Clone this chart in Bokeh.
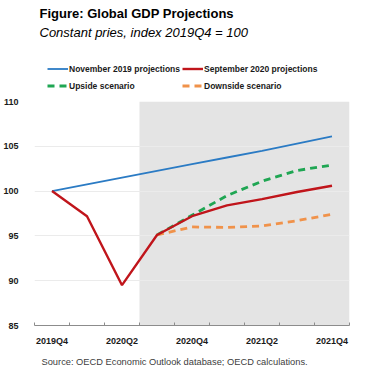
from bokeh.plotting import figure
from bokeh.layouts import column
from bokeh.models import (FixedTicker, Range1d, Legend, LegendItem, Label, BoxAnnotation)
from bokeh.embed import file_html
from bokeh.resources import INLINE

# ---- data ----
quarters = ["2019Q4", "2020Q1", "2020Q2", "2020Q3", "2020Q4",
            "2021Q1", "2021Q2", "2021Q3", "2021Q4"]
nov2019 = [100.0, 100.75, 101.5, 102.25, 103.0, 103.75, 104.5, 105.3, 106.1]
sep2020 = [100.0, 97.2, 89.5, 95.1, 97.2, 98.4, 99.1, 99.9, 100.6]
scenario_quarters = ["2020Q3", "2020Q4", "2021Q1", "2021Q2", "2021Q3", "2021Q4"]
upside = [95.1, 97.3, 99.5, 101.1, 102.3, 102.9]
downside = [95.1, 96.0, 95.95, 96.1, 96.7, 97.4]
y_ticks = [85, 90, 95, 100, 105, 110]
label_quarters = ["2019Q4", "2020Q2", "2020Q4", "2021Q2", "2021Q4"]
projection_start = "2020Q3"

title_text = "Figure: Global GDP Projections"
subtitle_text = "Constant pries, index 2019Q4 = 100"
source_text = "Source: OECD Economic Outlook database; OECD calculations."
series_names = ["November 2019 projections", "September 2020 projections",
                "Upside scenario", "Downside scenario"]

# ---- styles ----
BLUE = "#2b7bc4"
RED = "#c0151b"
GREEN = "#1fa653"
ORANGE = "#f0924a"
SANS = "'Liberation Sans', Arial, sans-serif"
W = 357
styles = [dict(line_color=BLUE, line_width=1.8),
          dict(line_color=RED, line_width=2.4),
          dict(line_color=GREEN, line_width=2.8, line_dash="7 5"),
          dict(line_color=ORANGE, line_width=2.8, line_dash="7 5")]


def bare(height):
    f = figure(width=W, height=height, output_backend="svg", toolbar_location=None,
               x_axis_type=None, y_axis_type=None,
               x_range=Range1d(0, W), y_range=Range1d(0, height),
               min_border=0, min_border_left=0, min_border_right=0,
               min_border_top=0, min_border_bottom=0)
    f.outline_line_color = None
    f.grid.visible = False
    return f


# ---- header: title, subtitle, legend ----
HEAD_H = 93
head = bare(HEAD_H)
head.add_layout(Label(x=5, y=HEAD_H - 12.5, x_units="screen", y_units="screen",
                      text=title_text, text_font=SANS, text_font_style="bold",
                      text_font_size="13px", text_color="black",
                      text_baseline="alphabetic"))
head.add_layout(Label(x=5, y=HEAD_H - 32, x_units="screen", y_units="screen",
                      text=subtitle_text, text_font=SANS, text_font_style="italic",
                      text_font_size="13px", text_color="black",
                      text_baseline="alphabetic"))
nan = float("nan")
dummy = [head.line([nan], [nan], **st) for st in styles]
legend = Legend(items=[LegendItem(label=n, renderers=[r]) for n, r in zip(series_names, dummy)],
                orientation="horizontal", ncols=2, location=(13, 0),
                padding=0, margin=0, spacing=2, label_standoff=1,
                glyph_width=21, glyph_height=15, label_height=15,
                border_line_color=None, background_fill_alpha=0,
                label_text_font=SANS, label_text_font_style="bold",
                label_text_font_size="8.5px", label_text_color="#1a1a1a")
head.add_layout(legend)

# ---- main chart ----
xi = list(range(len(quarters)))
sx = [quarters.index(q) for q in scenario_quarters]

p = figure(width=W, height=255, output_backend="svg", toolbar_location=None,
           x_range=Range1d(-0.5, len(quarters) - 0.5),
           y_range=Range1d(min(y_ticks), max(y_ticks)),
           min_border_left=26, min_border_right=8, min_border_top=8,
           min_border_bottom=22)
p.outline_line_color = None

band = BoxAnnotation(left=quarters.index(projection_start) - 0.5,
                     right=len(quarters) - 0.5,
                     fill_color="#e4e4e4", fill_alpha=1.0, line_color=None,
                     level="image")
p.add_layout(band)

p.xgrid.visible = False
p.ygrid.ticker = FixedTicker(ticks=y_ticks[1:])
p.ygrid.grid_line_color = "#ebebeb"
p.ygrid.grid_line_width = 1

p.yaxis.ticker = FixedTicker(ticks=y_ticks)
p.yaxis.axis_line_color = None
p.yaxis.major_tick_line_color = None
p.yaxis.minor_tick_line_color = None
p.yaxis.major_label_standoff = 10
p.yaxis.major_label_text_font = SANS
p.yaxis.major_label_text_font_style = "bold"
p.yaxis.major_label_text_font_size = "9px"
p.yaxis.major_label_text_color = "#1a1a1a"

label_idx = [quarters.index(q) for q in label_quarters]
p.xaxis.ticker = FixedTicker(ticks=label_idx,
                             minor_ticks=[i - 0.5 for i in range(len(quarters) + 1)])
p.xaxis.major_label_overrides = {i: quarters[i] for i in label_idx}
p.xaxis.axis_line_color = "#8c8c8c"
p.xaxis.axis_line_width = 1
p.xaxis.major_tick_line_color = None
p.xaxis.major_tick_in = 0
p.xaxis.major_tick_out = 0
p.xaxis.minor_tick_line_color = "#8c8c8c"
p.xaxis.minor_tick_in = 3
p.xaxis.minor_tick_out = 0
p.xaxis.major_label_standoff = 10
p.xaxis.major_label_text_font = SANS
p.xaxis.major_label_text_font_style = "bold"
p.xaxis.major_label_text_font_size = "9px"
p.xaxis.major_label_text_color = "#1a1a1a"

p.line(xi, nov2019, **styles[0])
p.line(sx, upside, **styles[2])
p.line(sx, downside, **styles[3])
p.line(xi, sep2020, **styles[1])

# ---- footer: source ----
FOOT_H = 18
foot = bare(FOOT_H)
foot.add_layout(Label(x=7, y=4.5, x_units="screen", y_units="screen",
                      text=source_text, text_font=SANS,
                      text_font_size="9.3px", text_color="#404040",
                      text_baseline="alphabetic"))

layout = column(head, p, foot, spacing=0)
open("out.html", "w").write(file_html(layout, INLINE))
